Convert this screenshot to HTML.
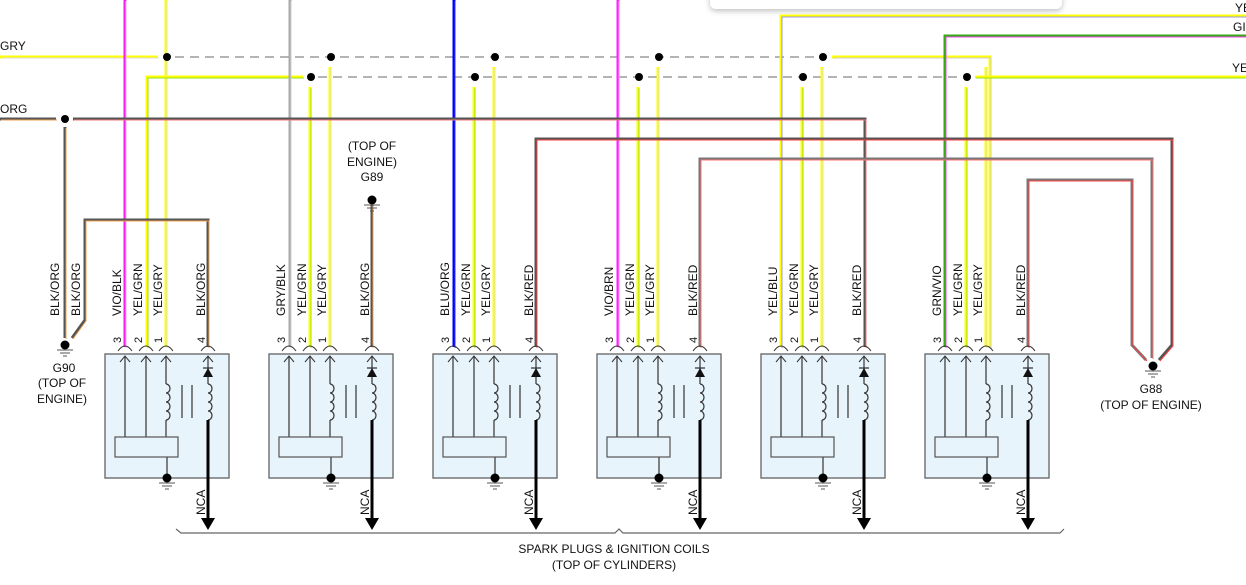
<!DOCTYPE html>
<html><head><meta charset="utf-8"><style>
html,body{margin:0;padding:0;background:#fff;width:1246px;height:585px;overflow:hidden}
svg{display:block;font-family:"Liberation Sans",sans-serif;font-size:12px;fill:#111}
text{fill:#111}
</style></head><body>
<svg id="s" width="1246" height="585" xmlns="http://www.w3.org/2000/svg">
<defs><filter id="sh" x="-10%" y="-100%" width="120%" height="400%"><feDropShadow dx="0" dy="2" stdDeviation="3" flood-color="#000" flood-opacity="0.25"/></filter></defs>
<rect x="710" y="-12" width="352" height="21" rx="6" fill="#fff" filter="url(#sh)"/>
<g id="wires" fill="none"></g>
<g id="blocks"></g>
<text x="0" y="50" font-size="12">GRY</text>
<text x="0" y="113" font-size="12">ORG</text>
<text x="1235" y="12" font-size="12">YE</text>
<text x="1233" y="31" font-size="12">GI</text>
<text x="1232" y="72" font-size="12">YE</text>
<text x="372" y="150" text-anchor="middle">(TOP OF</text>
<text x="372" y="166" text-anchor="middle">ENGINE)</text>
<text x="372" y="181" text-anchor="middle">G89</text>
<text x="64" y="372" text-anchor="middle">G90</text>
<text x="62" y="387" text-anchor="middle">(TOP OF</text>
<text x="62" y="403" text-anchor="middle">ENGINE)</text>
<text x="1151" y="393" text-anchor="middle">G88</text>
<text x="1151" y="409" text-anchor="middle">(TOP OF ENGINE)</text>
<text x="614" y="553" text-anchor="middle">SPARK PLUGS &amp; IGNITION COILS</text>
<text x="614" y="569" text-anchor="middle">(TOP OF CYLINDERS)</text>
<g>
<text transform="translate(59,316) rotate(-90)">BLK/ORG</text>
<text transform="translate(80,316) rotate(-90)">BLK/ORG</text>
<text transform="translate(121,316) rotate(-90)">VIO/BLK</text>
<text transform="translate(142,316) rotate(-90)">YEL/GRN</text>
<text transform="translate(162,316) rotate(-90)">YEL/GRY</text>
<text transform="translate(205,316) rotate(-90)">BLK/ORG</text>
<text transform="translate(285,316) rotate(-90)">GRY/BLK</text>
<text transform="translate(306,316) rotate(-90)">YEL/GRN</text>
<text transform="translate(326,316) rotate(-90)">YEL/GRY</text>
<text transform="translate(369,316) rotate(-90)">BLK/ORG</text>
<text transform="translate(449,316) rotate(-90)">BLU/ORG</text>
<text transform="translate(470,316) rotate(-90)">YEL/GRN</text>
<text transform="translate(490,316) rotate(-90)">YEL/GRY</text>
<text transform="translate(533,316) rotate(-90)">BLK/RED</text>
<text transform="translate(613,316) rotate(-90)">VIO/BRN</text>
<text transform="translate(634,316) rotate(-90)">YEL/GRN</text>
<text transform="translate(654,316) rotate(-90)">YEL/GRY</text>
<text transform="translate(697,316) rotate(-90)">BLK/RED</text>
<text transform="translate(777,316) rotate(-90)">YEL/BLU</text>
<text transform="translate(798,316) rotate(-90)">YEL/GRN</text>
<text transform="translate(818,316) rotate(-90)">YEL/GRY</text>
<text transform="translate(861,316) rotate(-90)">BLK/RED</text>
<text transform="translate(941,316) rotate(-90)">GRN/VIO</text>
<text transform="translate(962,316) rotate(-90)">YEL/GRN</text>
<text transform="translate(982,316) rotate(-90)">YEL/GRY</text>
<text transform="translate(1025,316) rotate(-90)">BLK/RED</text>
</g>
<g font-size="11">
<text transform="translate(121,343) rotate(-90)">3</text><text transform="translate(142,343) rotate(-90)">2</text><text transform="translate(162,343) rotate(-90)">1</text><text transform="translate(205,343) rotate(-90)">4</text>
<text transform="translate(285,343) rotate(-90)">3</text><text transform="translate(306,343) rotate(-90)">2</text><text transform="translate(326,343) rotate(-90)">1</text><text transform="translate(369,343) rotate(-90)">4</text>
<text transform="translate(449,343) rotate(-90)">3</text><text transform="translate(470,343) rotate(-90)">2</text><text transform="translate(490,343) rotate(-90)">1</text><text transform="translate(533,343) rotate(-90)">4</text>
<text transform="translate(613,343) rotate(-90)">3</text><text transform="translate(634,343) rotate(-90)">2</text><text transform="translate(654,343) rotate(-90)">1</text><text transform="translate(697,343) rotate(-90)">4</text>
<text transform="translate(777,343) rotate(-90)">3</text><text transform="translate(798,343) rotate(-90)">2</text><text transform="translate(818,343) rotate(-90)">1</text><text transform="translate(861,343) rotate(-90)">4</text>
<text transform="translate(941,343) rotate(-90)">3</text><text transform="translate(962,343) rotate(-90)">2</text><text transform="translate(982,343) rotate(-90)">1</text><text transform="translate(1025,343) rotate(-90)">4</text>
</g>
<g>
<text transform="translate(205,515) rotate(-90)">NCA</text>
<text transform="translate(369,515) rotate(-90)">NCA</text>
<text transform="translate(533,515) rotate(-90)">NCA</text>
<text transform="translate(697,515) rotate(-90)">NCA</text>
<text transform="translate(861,515) rotate(-90)">NCA</text>
<text transform="translate(1025,515) rotate(-90)">NCA</text>
</g>
</svg>
<script>
var NS="http://www.w3.org/2000/svg";
function el(p,t,a){var e=document.createElementNS(NS,t);for(var k in a)e.setAttribute(k,a[k]);p.appendChild(e);return e;}
var W=document.getElementById('wires'),B=document.getElementById('blocks');
function wire(d,c1,c2){el(W,'path',{d:d,stroke:c1,'stroke-width':3,fill:'none'});if(c2)el(W,'path',{d:d,stroke:c2,'stroke-width':1,fill:'none',transform:'translate(1,1)'});}
var Y='#ffff00',YG='#99dd22',OR='#f0a050',DK='#555',RD='#ff4040';
function dot(x,y,r){el(W,'circle',{cx:x,cy:y,r:r||4,fill:'#000'});}
function gnd(x,y,p){dot(x,y,4.5);el(p||W,'path',{d:'M'+(x-8)+' '+(y+5)+'h16M'+(x-5)+' '+(y+8)+'h10M'+(x-2)+' '+(y+11)+'h4',stroke:'#555','stroke-width':1});}
el(W,'path',{d:'M175 57H820',stroke:'#888','stroke-width':1.2,'stroke-dasharray':'9 6'});
el(W,'path',{d:'M318 77H964',stroke:'#888','stroke-width':1.2,'stroke-dasharray':'9 6'});
wire('M0 57H158',Y,'#ddd');
wire('M166 0V347',Y,'#ddd');
wire('M303 77H147V347',Y,YG);
var xs=[105,269,433,597,761,925];
for(var i=1;i<6;i++){var x=xs[i];wire('M'+(x+61)+' 67V347',Y,'#ddd');wire('M'+(x+41)+' 87V347',Y,YG);}
wire('M832 57H990V347',Y,'#ccc');
wire('M975 77H1246',Y,YG);
wire('M125 0V347','#ee22ee','#ffaaff');
wire('M290 0V347','#aaaaaa','#ccc');
wire('M454 0V347','#0000ff','#3030ff');
wire('M618 0V347','#ff22ff','#ff88ff');
wire('M781 347V16H1246',Y,'#9999dd');
wire('M945 347V36H1246','#33aa11','#ee44ee');
wire('M0 119H56',DK,OR);
wire('M73 119H865V347',DK,'#ee7777');
wire('M65 127V338',DK,OR);
wire('M208 347V220H85V320L72 338',DK,OR);
wire('M372 205V347',DK,OR);
wire('M536 347V139H1172V345L1159 360',DK,RD);
wire('M700 347V159H1152V358','#777','#ff7070');
wire('M1028 347V180H1132V345L1146 360','#777',RD);
dot(167,57);dot(65,119);
[331,495,659,823].forEach(function(x){dot(x,57);});
[311,475,639,803,967].forEach(function(x){dot(x,77);});
gnd(372,200);gnd(65,345);gnd(1153,366);
function coil(x,y){var d='M'+x+' '+y;for(var k=0;k<4;k++){d+=' a4 4.5 0 1 1 0 9';}return d;}
xs.forEach(function(x0){
 el(B,'rect',{x:x0,y:354,width:124,height:124,fill:'#e8f4fb',stroke:'#777','stroke-width':1.5});
 [20,41,61,103].forEach(function(o){var x=x0+o;
  el(B,'path',{d:'M'+(x-7)+' 351Q'+x+' 341 '+(x+7)+' 351',stroke:'#333','stroke-width':1,fill:'none'});
  el(B,'path',{d:'M'+(x-5)+' 362L'+x+' 356L'+(x+5)+' 362',stroke:'#333','stroke-width':1,fill:'none'});
 });
 el(B,'path',{d:'M'+(x0+20)+' 356V437M'+(x0+41)+' 356V437M'+(x0+61)+' 356V384M'+(x0+61)+' 420V437M'+(x0+62)+' 457V478',stroke:'#333','stroke-width':1.2,fill:'none'});
 el(B,'path',{d:coil(x0+61,384),stroke:'#333','stroke-width':1.2,fill:'none'});
 el(B,'path',{d:'M'+(x0+77)+' 385V418M'+(x0+87)+' 385V418',stroke:'#333','stroke-width':1.2});
 el(B,'rect',{x:x0+10,y:437,width:63,height:20,fill:'#e8f4fb',stroke:'#555','stroke-width':1.2});
 var p=x0+103;
 el(B,'path',{d:'M'+p+' 356V384M'+(p-5)+' 368h10',stroke:'#333','stroke-width':1.2});
 el(B,'path',{d:'M'+p+' 368L'+(p+5)+' 377L'+(p-5)+' 377Z',fill:'#111'});
 el(B,'path',{d:coil(p,384),stroke:'#333','stroke-width':1.2,fill:'none'});
 el(B,'path',{d:'M'+p+' 420V520',stroke:'#000','stroke-width':3});
 el(B,'path',{d:'M'+(p-7)+' 518L'+(p+7)+' 518L'+p+' 530Z',fill:'#000'});
 el(B,'circle',{cx:x0+62,cy:478,r:4.5,fill:'#000'});
 el(B,'path',{d:'M'+(x0+54)+' 483h16M'+(x0+57)+' 486h10M'+(x0+60)+' 489h4',stroke:'#555','stroke-width':1});
});
el(B,'path',{d:'M176 529L181 533H615L619 529L623 533H1060L1064 529',stroke:'#666','stroke-width':1.2,fill:'none'});
</script>
</body></html>
